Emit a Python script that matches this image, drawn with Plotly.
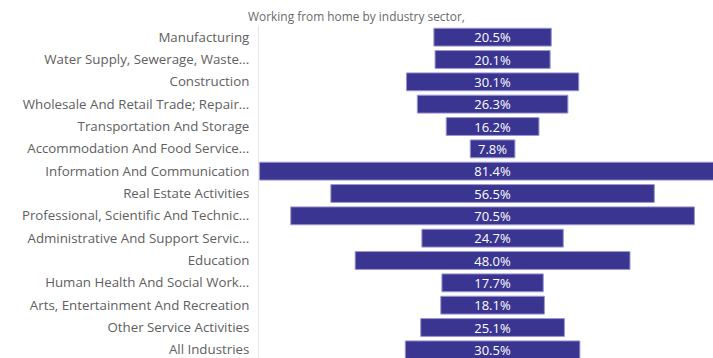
import plotly.graph_objects as go

sectors = [
    "Manufacturing",
    "Water Supply, Sewerage, Waste...",
    "Construction",
    "Wholesale And Retail Trade; Repair...",
    "Transportation And Storage",
    "Accommodation And Food Service...",
    "Information And Communication",
    "Real Estate Activities",
    "Professional, Scientific And Technic...",
    "Administrative And Support Servic...",
    "Education",
    "Human Health And Social Work...",
    "Arts, Entertainment And Recreation",
    "Other Service Activities",
    "All Industries",
]
wfh_pct = [20.5, 20.1, 30.1, 26.3, 16.2, 7.8, 81.4, 56.5, 70.5, 24.7, 48.0, 17.7, 18.1, 25.1, 30.5]

FONT = "Open Sans, Noto Sans, sans-serif"

fig = go.Figure(
    go.Funnel(
        y=sectors,
        x=wfh_pct,
        text=[f"{v:.1f}%" for v in wfh_pct],
        textinfo="text",
        textposition="inside",
        insidetextanchor="middle",
        textfont=dict(color="white", size=13, family=FONT),
        marker=dict(color="#3a3590", line=dict(color="#9a96d0", width=1)),
        connector=dict(visible=False),
        constraintext="none",
    )
)

fig.update_layout(
    width=713,
    height=361,
    margin=dict(l=259, r=0, t=26, b=0),
    paper_bgcolor="white",
    plot_bgcolor="white",
    bargap=0.09,
    showlegend=False,
    title=dict(
        text="Working from home by industry sector,",
        x=0.5,
        xref="container",
        xanchor="center",
        y=0.965,
        yref="container",
        font=dict(size=11.9, color="#6a6a6a", family=FONT),
    ),
    xaxis=dict(visible=False, range=[-40.8, 38.5], fixedrange=True),
    yaxis=dict(
        showline=True,
        linecolor="#e6e6e6",
        linewidth=1,
        ticks="",
        ticklabelstandoff=6,
        tickfont=dict(size=13.3, color="#606060", family=FONT),
        showgrid=False,
    ),
)

fig.write_html("out.html")
